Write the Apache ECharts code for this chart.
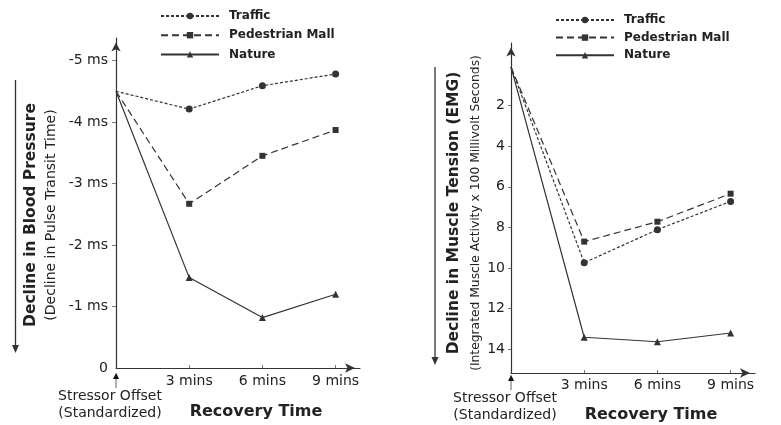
<!DOCTYPE html>
<html>
<head>
<meta charset="utf-8">
<script src="https://cdn.jsdelivr.net/npm/echarts@6/dist/echarts.min.js"></script>
<style>
  html, body { margin: 0; padding: 0; background: #fff; }
  #chart { width: 781px; height: 425px; }
</style>
</head>
<body>
<div id="chart"></div>
<script>
// ---- Data ----
const seriesNames = ['Traffic', 'Pedestrian Mall', 'Nature'];
const times = [0, 3, 6, 9];
const timeLabels = ['Stressor Offset\n(Standardized)', '3 mins', '6 mins', '9 mins'];

// Left panel: decline in blood pressure (ms of pulse transit time)
const bpTraffic = [-4.5, -4.21, -4.59, -4.78];
const bpMall    = [-4.5, -2.67, -3.45, -3.87];
const bpNature  = [-4.5, -1.47, -0.82, -1.20];
const bpTicks   = [-5, -4, -3, -2, -1, 0];

// Right panel: decline in muscle tension (EMG)
const emgTraffic = [0.1, 9.74, 8.11, 6.72];
const emgMall    = [0.1, 8.70, 7.72, 6.34];
const emgNature  = [0.1, 13.41, 13.63, 13.20];
const emgTicks   = [2, 4, 6, 8, 10, 12, 14];

// ---- Styles ----
const FONT = 'DejaVu Sans';
const INK = '#222';
const LINE = '#333';
const styles = {
  'Traffic':         { dash: [3, 2], symbol: 'circle',   size: 7 },
  'Pedestrian Mall': { dash: [7, 4], symbol: 'rect',     size: 6 },
  'Nature':          { dash: 'solid', symbol: 'triangle', size: 7 }
};

function pairs(vals) {
  // the stressor-offset point (first) is drawn without a marker
  return times.map((t, i) => (i === 0 ? { value: [t, vals[i]], symbol: 'none' } : [t, vals[i]]));
}

function makeSeries(name, vals, idx) {
  const s = styles[name];
  return {
    name: name,
    type: 'line',
    xAxisIndex: idx,
    yAxisIndex: idx,
    data: pairs(vals),
    symbol: s.symbol,
    symbolSize: s.size,
    showAllSymbol: true,
    lineStyle: { color: LINE, width: 1.2, type: s.dash },
    itemStyle: { color: LINE },
    emphasis: { disabled: true },
    animation: false,
    z: 3
  };
}

// main time axis: line, arrow, ticks and the "x mins" labels
function xAxisFor(idx, margin, nameGap) {
  return {
    type: 'value',
    gridIndex: idx,
    position: 'bottom',
    min: 0,
    max: 10,
    splitLine: { show: false },
    axisLine: {
      show: true,
      onZero: false,
      lineStyle: { color: LINE, width: 1.2 },
      symbol: ['none', 'arrow'],
      symbolSize: [7, 10],
      symbolOffset: [0, -5]
    },
    axisTick: { show: true, inside: true, length: 3, customValues: times.slice(1), lineStyle: { color: '#777' } },
    axisLabel: {
      customValues: times.slice(1),
      margin: margin,
      fontFamily: FONT,
      fontSize: 14,
      lineHeight: 17,
      color: INK,
      formatter: v => timeLabels[times.indexOf(v)]
    },
    name: 'Recovery Time',
    nameLocation: 'middle',
    nameGap: nameGap,
    nameTextStyle: { fontFamily: FONT, fontSize: 16, fontWeight: 'bold', color: INK, padding: [0, 0, 0, 36] }
  };
}

// companion axis carrying only the stressor-offset label (with its small up-arrow)
function originAxisFor(idx, margin) {
  return {
    type: 'value',
    gridIndex: idx,
    position: 'bottom',
    min: 0,
    max: 10,
    splitLine: { show: false },
    axisLine: { show: false, onZero: false },
    axisTick: { show: false },
    axisLabel: {
      customValues: [times[0]],
      showMinLabel: true,
      margin: margin,
      color: INK,
      formatter: function () {
        const parts = timeLabels[0].split('\n');
        return '{arr|▲}\n{stem||}\n{lab|' + parts[0] + '}\n{lab|' + parts[1] + '}';
      },
      rich: {
        arr: { fontSize: 8, lineHeight: 7, color: '#111', fontFamily: FONT },
        stem: { fontSize: 9, lineHeight: 9, color: '#333', fontFamily: FONT },
        lab: { fontSize: 14, lineHeight: 17, color: INK, fontFamily: FONT, padding: [0, 12, 0, 0] }
      }
    }
  };
}

const legendText = { fontFamily: FONT, fontSize: 12, fontWeight: 'bold', color: INK, lineHeight: 14, padding: [0, 0, 0, 5] };

const option = {
  backgroundColor: '#fff',
  animation: false,
  textStyle: { fontFamily: FONT },
  grid: [
    { left: 116, top: 38, width: 244, height: 330, containLabel: false, outerBoundsMode: 'none' },
    { left: 511, top: 43, width: 244, height: 330, containLabel: false, outerBoundsMode: 'none' }
  ],
  legend: [
    {
      data: seriesNames, orient: 'vertical', left: 160, top: 9, padding: 0,
      itemWidth: 58, itemHeight: 8, itemGap: 5.2,
      textStyle: legendText, selectedMode: false
    },
    {
      data: seriesNames, orient: 'vertical', left: 555, top: 13, padding: 0,
      itemWidth: 58, itemHeight: 8, itemGap: 3.6,
      textStyle: legendText, selectedMode: false
    }
  ],
  xAxis: [ xAxisFor(0, 5, 36), xAxisFor(1, 4, 34), originAxisFor(0, 4), originAxisFor(1, 1) ],
  yAxis: [
    {
      type: 'value',
      gridIndex: 0,
      inverse: true,
      min: -5.366,
      max: 0,
      splitLine: { show: false },
      axisLine: {
        show: true, onZero: false,
        lineStyle: { color: LINE, width: 1.2 },
        symbol: ['none', 'arrow'], symbolSize: [7, 9], symbolOffset: [0, -4.5]
      },
      axisTick: { show: true, length: 4, customValues: bpTicks.slice(0, -1), lineStyle: { color: '#777' } },
      axisLabel: {
        customValues: bpTicks, margin: 8, fontFamily: FONT, fontSize: 14, color: INK,
        formatter: v => (v === 0 ? '0' : v + ' ms')
      },
      name: '{t|Decline in Blood Pressure}\n{s|(Decline in Pulse Transit Time)}',
      nameLocation: 'middle',
      nameGap: 56,
      nameRotate: 90,
      nameTextStyle: {
        padding: [0, 24, 0, 0],
        rich: {
          t: { fontFamily: FONT, fontSize: 15.5, fontWeight: 'bold', color: INK, lineHeight: 22 },
          s: { fontFamily: FONT, fontSize: 14, color: INK, lineHeight: 18 }
        }
      }
    },
    {
      type: 'value',
      gridIndex: 1,
      inverse: true,
      min: -1.08,
      max: 15.17,
      splitLine: { show: false },
      axisLine: {
        show: true, onZero: false,
        lineStyle: { color: LINE, width: 1.2 },
        symbol: ['none', 'arrow'], symbolSize: [7, 9], symbolOffset: [0, -4.5]
      },
      axisTick: { show: true, length: 3, customValues: emgTicks, lineStyle: { color: '#777' } },
      axisLabel: { customValues: emgTicks, margin: 6, fontFamily: FONT, fontSize: 14, color: INK },
      name: '{t|Decline in Muscle Tension (EMG)}\n{s|(Integrated Muscle Activity x 100 Millivolt Seconds)}',
      nameLocation: 'middle',
      nameGap: 27,
      nameRotate: 90,
      nameTextStyle: {
        padding: [0, 10, 0, 0],
        rich: {
          t: { fontFamily: FONT, fontSize: 15.5, fontWeight: 'bold', color: INK, lineHeight: 28 },
          s: { fontFamily: FONT, fontSize: 12.3, color: INK, lineHeight: 16 }
        }
      }
    }
  ],
  graphic: [
    { type: 'line', shape: { x1: 15.5, y1: 80, x2: 15.5, y2: 346 }, style: { stroke: LINE, lineWidth: 1.3 } },
    { type: 'polygon', shape: { points: [[12, 345], [19, 345], [15.5, 353]] }, style: { fill: LINE } },
    { type: 'line', shape: { x1: 435, y1: 67, x2: 435, y2: 358 }, style: { stroke: LINE, lineWidth: 1.3 } },
    { type: 'polygon', shape: { points: [[431.5, 357], [438.5, 357], [435, 365]] }, style: { fill: LINE } }
  ],
  series: [
    makeSeries('Traffic', bpTraffic, 0),
    makeSeries('Pedestrian Mall', bpMall, 0),
    makeSeries('Nature', bpNature, 0),
    makeSeries('Traffic', emgTraffic, 1),
    makeSeries('Pedestrian Mall', emgMall, 1),
    makeSeries('Nature', emgNature, 1)
  ]
};

const chart = echarts.init(document.getElementById('chart'), null, { renderer: 'canvas' });
chart.setOption(option);
</script>
</body>
</html>
